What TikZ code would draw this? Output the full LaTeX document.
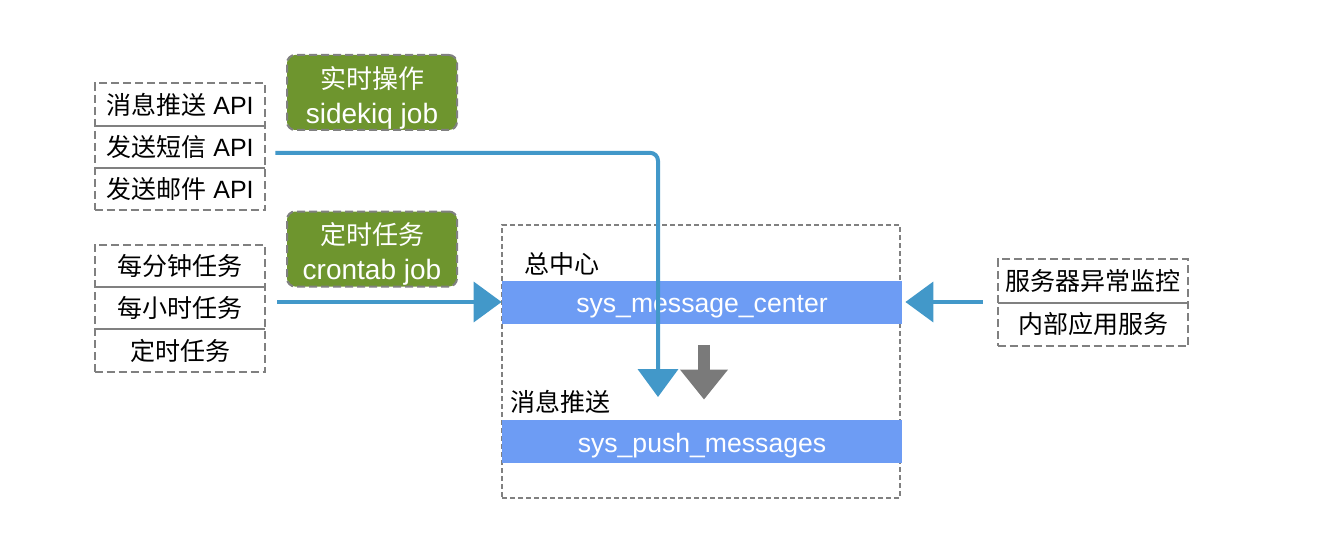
\documentclass[tikz,border=0pt]{standalone}
\usepackage{fontspec}
\setmainfont{Liberation Sans}
\newfontfamily\cjk{Noto Sans CJK SC}
\usetikzlibrary{arrows.meta, positioning, fit}
\definecolor{flowblue}{HTML}{4298C9}
\definecolor{barblue}{HTML}{6D9CF4}
\definecolor{jobgreen}{HTML}{6E952E}
\definecolor{linegray}{HTML}{808080}

\begin{document}
\begin{tikzpicture}[x=0.5pt, y=-0.5pt, font=\fontsize{12.5}{15}\selectfont,
  cell/.style={minimum width=85pt, minimum height=20.75pt, inner sep=0pt},
  wcell/.style={cell, minimum width=95pt, minimum height=21.25pt},
  group/.style={draw=linegray, line width=1pt, dash pattern=on 4pt off 2pt, inner sep=0pt},
  divider/.style={draw=linegray, line width=1pt},
  jobbox/.style={draw=linegray, line width=1pt, dash pattern=on 4pt off 2pt,
    fill=jobgreen, rounded corners=4pt, text=white, align=center,
    minimum width=85pt, minimum height=37.5pt, inner sep=0pt,
    font=\fontsize{14}{17.5}\selectfont},
  bar/.style={fill=barblue, text=white, minimum width=200pt, minimum height=21.5pt,
    inner sep=0pt, text height=10.5pt, text depth=0pt, font=\fontsize{13.3}{15}\selectfont},
  flow/.style={draw=flowblue, line width=2pt, rounded corners=4pt,
    -{Triangle[length=14pt,width=20pt]}},
  sink/.style={draw=linegray!95!black, line width=6pt,
    -{Triangle[length=15pt,width=23pt]}},
]
  \useasboundingbox (0,0) rectangle (1344,556);

  % API calls
  \node[cell] (api1) at (180,104.5) {{\cjk 消息推送} API};
  \node[cell, below=0pt of api1] (api2) {{\cjk 发送短信} API};
  \node[cell, below=0pt of api2] (api3) {{\cjk 发送邮件} API};
  \node[group, fit=(api1)(api3)] (apis) {};
  \draw[divider] (api1.south west) -- (api1.south east);
  \draw[divider] (api2.south west) -- (api2.south east);

  % scheduled tasks
  \node[cell] (minute) at (180,266) {\cjk 每分钟任务};
  \node[cell, below=0pt of minute] (hour) {\cjk 每小时任务};
  \node[cell, below=0pt of hour] (timed) {\cjk 定时任务};
  \node[group, fit=(minute)(timed)] (tasks) {};
  \draw[divider] (minute.south west) -- (minute.south east);
  \draw[divider] (hour.south west) -- (hour.south east);

  % job boxes
  \node[jobbox] (sidekiq) at (372,92.5)
    {{\cjk\fontsize{13}{15}\selectfont 实时操作}\rule{0pt}{16pt}\\sidekiq job};
  \node[jobbox] (crontab) at (372,249)
    {{\cjk\fontsize{13}{15}\selectfont 定时任务}\rule{0pt}{16pt}\\crontab job};

  % message center
  \node[draw=linegray, line width=0.75pt, dash pattern=on 2.5pt off 1.5pt,
    minimum width=199pt, minimum height=136.5pt, inner sep=0pt] (center) at (701,361.5) {};
  \node[bar] (msgbar) at (702,302) {sys\_message\_center};
  \node[bar] (pushbar) at (702,441.5) {sys\_push\_messages};
  \node[anchor=south west, inner sep=0pt, font=\cjk\fontsize{12.5}{15}\selectfont]
    (centerlabel) at ([xshift=11pt,yshift=2pt]msgbar.north west) {总中心};
  \node[anchor=south west, inner sep=0pt, font=\cjk\fontsize{12.5}{15}\selectfont]
    (pushlabel) at ([xshift=4pt,yshift=3pt]pushbar.north west) {消息推送};
  \coordinate (pushin) at (658,397);

  % internal services
  \node[wcell] (monitor) at (1093,281) {\cjk 服务器异常监控};
  \node[wcell, below=0pt of monitor] (internal) {\cjk 内部应用服务};
  \node[group, fit=(monitor)(internal)] (services) {};
  \draw[divider] (monitor.south west) -- (monitor.south east);

  % flows
  \draw[flow] ([xshift=5pt,yshift=-3pt]api2.east) -| (pushin);
  \draw[flow] ([xshift=6pt]hour.east |- msgbar.west) -- (msgbar.west);
  \draw[flow] ([xshift=-7pt]services.west |- msgbar.east) -- ([xshift=1.5pt]msgbar.east);
  \draw[sink] ([xshift=1pt,yshift=-10.5pt]msgbar.south) -- ([xshift=1pt,yshift=10pt]pushbar.north);
\end{tikzpicture}
\end{document}
